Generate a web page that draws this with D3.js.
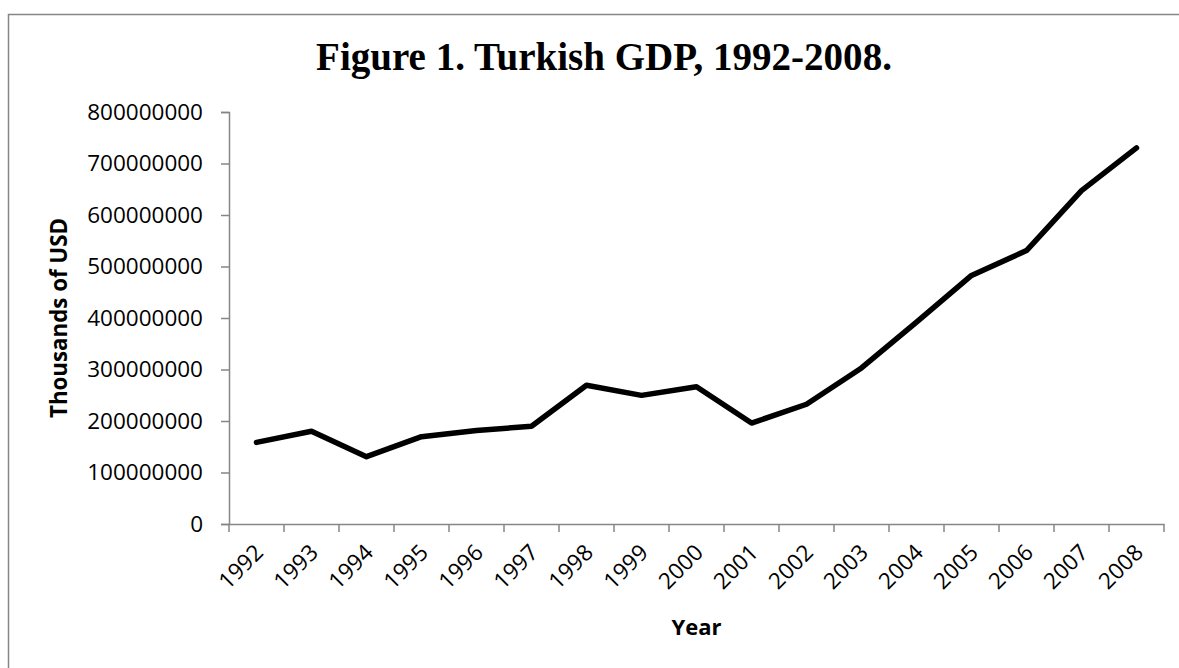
<!DOCTYPE html>
<html>
<head>
<meta charset="utf-8">
<script src="https://cdn.jsdelivr.net/npm/d3@7"></script>
<style>
  html, body { margin: 0; padding: 0; background: #fff; }
  svg { display: block; }
</style>
</head>
<body>
<svg id="chart" width="1179" height="668"></svg>
<script>
const years = ["1992","1993","1994","1995","1996","1997","1998","1999","2000","2001","2002","2003","2004","2005","2006","2007","2008"];
const gdp = [158500000, 180200000, 130700000, 169500000, 181500000, 189800000, 269300000, 249800000, 266600000, 196000000, 232500000, 303000000, 392200000, 482700000, 530900000, 647200000, 730300000];
const yTicks = [0, 100000000, 200000000, 300000000, 400000000, 500000000, 600000000, 700000000, 800000000];
const titleText = "Figure 1. Turkish GDP, 1992-2008.";
const yTitle = "Thousands of USD";
const xTitle = "Year";

(function () {
const svg = d3.select("#chart");
const axisColor = "#868686";
const sans = "'Open Sans', 'Noto Sans', sans-serif";

// outer chart border
svg.append("rect").attr("x", 8.5).attr("y", 14.5).attr("width", 1200).attr("height", 700)
  .attr("fill", "none").attr("stroke", axisColor).attr("stroke-width", 1.5);

const pLeft = 229, pRight = 1164, pTop = 112, pBottom = 524;
const x = d3.scaleBand().domain(years).range([pLeft, pRight]).padding(0);
const y = d3.scaleLinear().domain([0, 800000000]).range([pBottom, pTop]);

function fit(sel, target) {
  const fs = parseFloat(sel.attr("font-size"));
  const w = sel.node().getComputedTextLength();
  sel.attr("font-size", (fs * target / w).toFixed(2));
}

// title
const t = svg.append("text").attr("x", 604).attr("y", 70).attr("text-anchor", "middle")
  .attr("font-family", "'Liberation Serif', 'DejaVu Serif', serif").attr("font-weight", "bold")
  .attr("font-size", 34).attr("fill", "#000").text(titleText);
fit(t, 576);

// y axis
const yAxis = d3.axisLeft(y).tickValues(yTicks).tickSize(8).tickPadding(18).tickFormat(d3.format("d"));
const gy = svg.append("g").attr("transform", `translate(${pLeft},0)`).call(yAxis);
gy.select(".domain").attr("stroke", axisColor).attr("stroke-width", 1.5);
gy.selectAll(".tick line").attr("stroke", axisColor).attr("stroke-width", 1.5);
gy.selectAll(".tick text").attr("font-family", sans).attr("font-size", 22.5).attr("fill", "#000");

// x axis (labels at band centers, ticks at band boundaries)
const xAxis = d3.axisBottom(x).tickSize(0).tickPadding(0);
const gx = svg.append("g").attr("transform", `translate(0,${pBottom})`).call(xAxis);
gx.select(".domain").attr("stroke", axisColor).attr("stroke-width", 1.5);
gx.selectAll(".tick text")
  .attr("font-family", sans).attr("font-size", 22.5).attr("fill", "#000")
  .attr("text-anchor", "end").attr("dy", null).attr("y", 0)
  .attr("transform", "translate(8,30) rotate(-45)");
const bounds = years.map(d => x(d)).concat([x.range()[1]]);
gx.selectAll(".bt").data(bounds).enter().append("line").attr("class", "bt")
  .attr("x1", d => d).attr("x2", d => d).attr("y1", 0).attr("y2", 8)
  .attr("stroke", axisColor).attr("stroke-width", 1.5);

// axis titles
const yt = svg.append("text").attr("transform", `translate(67,318) rotate(-90)`)
  .attr("text-anchor", "middle").attr("font-family", sans).attr("font-weight", "bold")
  .attr("font-size", 24).attr("fill", "#000").text(yTitle);
fit(yt, 200);
const xt = svg.append("text").attr("x", (pLeft + pRight) / 2).attr("y", 635)
  .attr("text-anchor", "middle").attr("font-family", sans).attr("font-weight", "bold")
  .attr("font-size", 23).attr("fill", "#000").text(xTitle);
fit(xt, 50);

// line
const line = d3.line().x((d, i) => x(years[i]) + x.bandwidth() / 2).y(d => y(d));
svg.append("path").datum(gdp).attr("d", line).attr("fill", "none")
  .attr("stroke", "#000").attr("stroke-width", 5.5)
  .attr("stroke-linejoin", "round").attr("stroke-linecap", "round");
})();
</script>
</body>
</html>
